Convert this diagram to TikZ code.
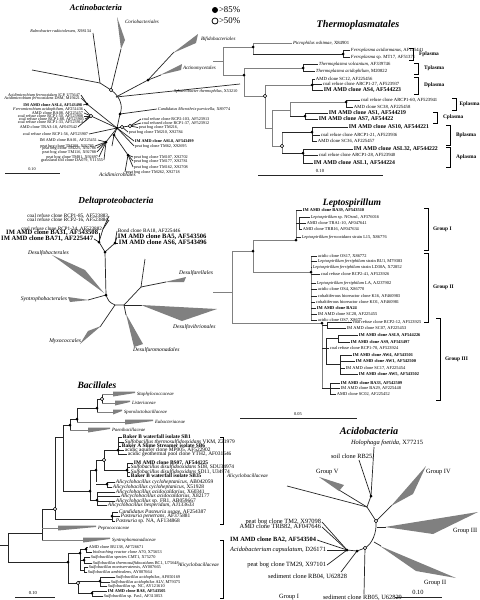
\documentclass[tikz,border=0pt]{standalone}
\usepackage{fontspec}
\setmainfont{Liberation Serif}
\newcommand{\bn}[1]{{\bfseries #1}}
\newcommand{\bB}[1]{{\fontsize{3.3}{3.5}\selectfont\bfseries #1}}
\newcommand{\bT}[1]{{\fontsize{2.9}{3.1}\selectfont\bfseries #1}}
\begin{document}
\begin{tikzpicture}[x=0.5pt,y=-0.5pt]

\tikzset{
    br/.style={draw=black!85, line width=0.35pt},
    gbr/.style={draw=black!50, line width=0.45pt},
    lab/.style={anchor=west, inner sep=0.3pt, font=\fontsize{2.3}{2.5}\selectfont},
    rlab/.style={lab, anchor=east},
    clade/.style={anchor=west, inner sep=0.3pt, font=\fontsize{2.5}{2.7}\selectfont\itshape},
    ttl/.style={inner sep=0pt, font=\fontsize{4.8}{5.5}\selectfont\bfseries\itshape},
    wedge/.style={fill=black!50, draw=none},
    fdot/.style={circle, fill=black, inner sep=0pt, minimum size=1.5pt},
    odot/.style={circle, draw=black, fill=white, line width=0.3pt, inner sep=0pt, minimum size=1.7pt},
    brk/.style={draw=black, line width=0.4pt}
};

\useasboundingbox (0,0) rectangle (480,600);
\fill[white] (0,0) rectangle (480,600);

%% legend
\node[fdot, minimum size=3pt] (lgA) at (215,10) {};
\node[lab, font=\fontsize{4.4}{5}\selectfont] (lgAt) at (218,10) {>85\%};
\node[odot, minimum size=3pt, line width=0.4pt] (lgB) at (215,21) {};
\node[lab, font=\fontsize{4.4}{5}\selectfont] (lgBt) at (218,21) {>50\%};

%% Actinobacteria
\begin{scope}[lab/.append style={font=\fontsize{2.1}{2.3}\selectfont}]
\node[ttl, font=\fontsize{4.3}{5}\selectfont\bfseries\itshape] (acT) at (96,8) {Actinobacteria};
\coordinate (ac0) at (111,90);
\coordinate (ac1) at (116,97);
\coordinate (ac2) at (120,114);
\coordinate (ac3) at (117,128);
\draw[br] (ac0) .. controls (121,97) and (123,107) .. (ac2) .. controls (119,121) .. (ac3);
% Coriobacteriales
\draw[br] (ac0) -- (121,49);
\fill[wedge] (121,49) -- (117,17) -- (125,40) -- cycle;
\node[clade] (acC) at (124,22) {Coriobacteriales};
% Rubrobacter
\coordinate (ac4) at (100,83);
\draw[br] (ac0) -- (ac4) -- (93,33);
\draw[br] (ac4) -- (32,70);
\node[rlab] (acR) at (92,31) {\textit{Rubrobacter radiotolerans}, X98134};
% Bifidobacteriales, Actinomycetales
\coordinate (ac5) at (148,80);
\draw[br] (ac1) -- (ac5) -- (174,52);
\fill[wedge] (173,53) -- (198,34) -- (196,43) -- cycle;
\node[clade] (acB) at (200,39) {Bifidobacteriales};
\draw[br] (ac5) -- (161,75);
\fill[wedge] (160,75) -- (182,64) -- (181,70) -- cycle;
\node[clade] (acA) at (182,68) {Actinomycetales};
\draw[br] (ac1) -- (240,84);
\node[lab] (acS) at (173,91) {\textit{Sphaerobacter thermophilus}, X53210};
\draw[br] (ac2) -- (157,109) node[lab] (acM) {\textit{Candidatus Microthrix parvicella}, X89774};
% right cluster
\coordinate (ac6) at (122,127);
\coordinate (ac7) at (130,126);
\draw[br] (ac3) -- (ac6) -- (ac7);
\draw[br] (ac7) -- (141,119) node[lab] (acr1) {coal refuse clone RCP2-103, AF523913};
\draw[br] (ac7) -- (141,123) node[lab] (acr2) {coal refused clone RCP1-37, AF523912};
\draw[br] (ac7) -- (138,127.5) node[lab] (acr3) {peat bog clone TM216,};
\draw[br] (ac6) -- (128,132) node[lab] (acr4) {peat bog clone TM210, X92784};
\draw[br] (ac3) -- (134,141) node[lab] (acr5) {\bn{IM AMD clone ASL8, AF543499}};
\draw[br] (ac3) -- (134,146) node[lab] (acr6) {peat bog clone TM62, X92695};
\coordinate (ac8) at (114,135);
\coordinate (ac9) at (128,155);
\draw[br] (ac3) -- (ac8) -- (ac9);
\draw[br] (ac8) -- (112,146);
\foreach \y/\x/\t [count=\i] in {157/133/{peat bog clone TM107, X92702}, 161/133/{peat bog clone TM177, X92781}, 167/133/{peat bog clone TM162, X92708}, 172/125/{peat bog clone TM262, X92718}} {
    \draw[br] (ac9) -- (\x,\y) node[lab] (acb\i) {\t};
}
% left cluster
\coordinate (ac10) at (87,104);
\draw[br] (ac3) -- (ac10);
\foreach \y/\x/\t [count=\i] in {95/81/{\textit{Acidimicrobium ferrooxidans} ICP, U75647}, 98/81/{\textit{Acidimicrobium ferrooxidans} DSM, M19421}, 105/83/{\bn{IM AMD clone ASL4, AF543498}}} {
    \draw[br] (ac10) -- (\x,\y) node[rlab] (acl\i) {\t};
}
\coordinate (ac11) at (91,116);
\draw[br] (ac3) -- (ac11);
\foreach \y/\x/\t [count=\i] in {109/84/{\textit{Ferromicrobium acidophilum}, AF251436}, 113/84/{AMD clone BA08, AF225457}, 116/84/{coal refuse clone RCP1-50, AF523908}, 119/85/{coal refuse clone RCP1-88, AF523905}, 122/84/{coal refuse clone RCP1-33, AF523914}, 127/78/{AMD clone TRA3-18, AF047642}} {
    \draw[br] (ac11) -- (\x,\y) node[rlab] (acm\i) {\t};
}
\draw[br] (ac3) -- (89,134) node[rlab] (acn) {coal refuse clone RCP1-56, AF523907};
\coordinate (ac12) at (106,142);
\draw[br] (ac3) -- (ac12);
\foreach \y/\x/\t [count=\i] in {140/98/{IM AMD clone BA01, AF225451}, 146/95/{peat bog clone TM208, X92785}, 148/97/{peat bog clone TM225, X92786}, 152/97/{peat bog clone TM116, X92788}, 157/99/{peat bog clone TM81, X92697}, 160/104/{grassland soil clone DA079, Y11555}} {
    \draw[br] (ac12) -- (\x,\y) node[rlab] (aco\i) {\t};
}
% scale bar
\draw[br] (5,173) -- (60,173);
\node[lab, anchor=south] (acs) at (32,172) {0.10};
\node[clade, font=\fontsize{2.7}{2.9}\selectfont\itshape] (acI) at (98,175) {Acidimicrobiales};
\foreach \c in {ac2,ac3,ac5,ac8,ac9,ac10,ac12} {\node[fdot] at (\c) {};}
\foreach \c in {ac0,ac6,ac7,ac11} {\node[odot] at (\c) {};}
\end{scope}

%% Thermoplasmatales
\begin{scope}[lab/.append style={font=\fontsize{2.35}{2.5}\selectfont}]
\node[ttl, font=\fontsize{5.1}{6}\selectfont\bfseries\itshape] (thT) at (358,25) {Thermoplasmatales};
\draw[gbr] (213,61) -- (223,61);
\draw[gbr] (223,47) -- (223,75);
\draw[gbr] (223,47) -- (253,47);
\draw[gbr] (253,43) -- (253,54);
\draw[gbr] (223,75) -- (244,75);
\draw[gbr] (253,43) -- (292,43) node[lab] (th1) {\textit{Picrophilus oshimae}, X84901};
\draw[br] (253,54) -- (343,54);
\draw[br] (343,50) -- (343,57);
\foreach \y/\t [count=\i] in {50/{\textit{Ferroplasma acidarmanus}, AF145441}, 57/{\textit{Ferroplasma} sp. MT17, AF51371}} {
    \draw[br] (343,\y) -- (350,\y) node[lab] (thf\i) {\t};
}
\draw[gbr] (244,68) -- (244,96);
\draw[gbr] (244,68) -- (303,68);
\draw[br] (303,64) -- (303,71);
\draw[br] (303,64) -- (318,64) node[lab] (tht1) {\textit{Thermoplasma volcanium}, AF339746};
\draw[br] (303,71) -- (315,71) node[lab] (tht2) {\textit{Thermoplasma acidophilum}, M20822};
\draw[gbr] (244,96) -- (265,96);
\draw[gbr] (265,85) -- (265,128);
\draw[gbr] (265,85) -- (312,85);
\draw[br] (312,79) -- (312,90);
\foreach \y/\x/\t [count=\i] in {79/315/{AMD clone SC12, AF225456}, 84/322/{coal refuse clone ARCP1-27, AF523937}, 90/323/{\bT{IM AMD clone AS4, AF544223}}} {
    \draw[br] (312,\y) -- (\x,\y) node[lab] (thd\i) {\t};
}
\draw[gbr] (265,128) -- (272,128);
\draw[gbr] (272,110) -- (272,146);
\draw[gbr] (272,110) -- (290,110);
\draw[gbr] (290,102) -- (290,116);
\draw[gbr] (290,102) -- (346,102);
\draw[br] (346,100) -- (346,107);
\foreach \y/\x/\t [count=\i] in {100/360/{coal refuse clone ARCP1-60, AF523941}, 107/353/{AMD clone SC38, AF225458}} {
    \draw[br] (346,\y) -- (\x,\y) node[lab] (the\i) {\t};
}
\draw[br] (290,116) -- (305,116);
\draw[br] (305,113) -- (305,119);
\foreach \y/\x/\t [count=\i] in {113/328/{\bT{IM AMD clone AS1, AF544219}}, 119/318/{\bT{IM AMD clone AS7, AF54422}}} {
    \draw[br] (305,\y) -- (\x,\y) node[lab] (thc\i) {\t};
}
\draw[gbr] (272,146) -- (282,146);
\draw[gbr] (282,132) -- (282,153);
\draw[br] (282,132) -- (312,132);
\draw[br] (312,127) -- (312,141);
\foreach \y/\x/\t [count=\i] in {127/348/{\bT{IM AMD clone AS10, AF544221}}, 135/320/{coal refuse clone ARCP1-21, AF523936}, 141/317/{AMD clone SC36, AF225457}} {
    \draw[br] (312,\y) -- (\x,\y) node[lab] (thb\i) {\t};
}
\draw[br] (282,153) -- (303,153);
\draw[br] (303,149) -- (303,163);
\foreach \y/\x/\t [count=\i] in {149/353/{\bT{IM AMD clone ASL32, AF544222}}, 155/318/{coal refuse clone ARCP1-28, AF523940}, 163/313/{\bT{IM AMD clone ASL1, AF544224}}} {
    \draw[br] (303,\y) -- (\x,\y) node[lab] (tha\i) {\t};
}
% brackets
\foreach \x/\a/\b/\d/\t [count=\i] in {413/48/60/5/Fplasma, 418/63/74/5/Tplasma, 418/77/94/5/Dplasma, 456/98/110/2.5/Eplasma, 437/112/123/5/Cplasma, 450/125/145/5/Bplasma, 450/147/167/5/Aplasma} {
    \draw[brk] (\x-4,\a) -- (\x,\a) -- (\x,\b) -- (\x-4,\b);
    \node[lab, font=\fontsize{2.7}{3}\selectfont\bfseries] (thk\i) at (\x+\d,{(\a+\b)/2}) {\t};
}
\draw[br] (258,175) -- (383,175);
\node[lab, anchor=south] (ths) at (320,174) {0.10};
\foreach \c in {(244,75),(253,47),(343,54),(303,68),(312,85),(346,102),(305,116),(312,132),(303,153)} {\node[fdot] at \c {};}
\foreach \c in {(265,96),(282,146)} {\node[odot] at \c {};}
\end{scope}

%% Deltaproteobacteria
\begin{scope}[lab/.append style={font=\fontsize{2.6}{2.8}\selectfont}]
\node[ttl, font=\fontsize{4.6}{5.5}\selectfont\bfseries\itshape] (dlT) at (116,201) {Deltaproteobacteria};
\coordinate (dl1) at (99,242);
\coordinate (dl2) at (105,252);
\coordinate (dl3) at (115,243);
\coordinate (dl4) at (106,295);
\coordinate (dl5) at (115,305);
\coordinate (dl6) at (124,305);
\coordinate (dl7) at (141,287);
\coordinate (dl8) at (103,229);
\draw[br] (dl1) -- (dl2) -- (dl3);
\draw[br] (dl2) -- (dl4) .. controls (109,302) .. (dl5) -- (dl6) -- (dl7);
\draw[br] (dl1) -- (dl8);
\foreach \y/\t [count=\i] in {216/{coal refuse clone RCP1-85, AF523883}, 220/{coal refuse clone RCP2-16, AF523884}} {
    \draw[br] (dl8) -- (109,\y) node[rlab] (dla\i) {\t};
}
\node[rlab] (dlb) at (103,229) {coal refuse clone RCP1-24, AF523882};
\draw[br] (dl1) -- (99,233) node[rlab] (dlc1) {\bB{IM AMD clone BA31, AF543508}};
\draw[br] (dl1) -- (94,239) node[rlab] (dlc2) {\bB{IM AMD clone BA71, AF225447}};
\foreach \y/\x/\t [count=\i] in {231/117/{Bond clone BA18, AF225446}, 237/117/{\bB{IM AMD clone BA5, AF543506}}, 243/118/{\bB{IM AMD clone AS6, AF543496}}} {
    \draw[br] (dl3) -- (\x,\y) node[lab] (dld\i) {\t};
}
% collapsed orders
\fill[wedge] (104,293) -- (52,255) -- (85,270) -- cycle;
\node[clade, font=\fontsize{2.8}{3}\selectfont\itshape] (dlo1) at (27,253) {Desulfobacterales};
\draw[br] (dl4) -- (88,300);
\fill[wedge] (89,300) -- (68,297) -- (70,302) -- cycle;
\node[clade, font=\fontsize{2.8}{3}\selectfont\itshape, anchor=east] (dlo2) at (68,299) {Syntrophobacterales};
\draw[br] (dl5) -- (100,327);
\fill[wedge] (101,326) -- (80,344) -- (88,331) -- cycle;
\node[clade, font=\fontsize{2.8}{3}\selectfont\itshape, anchor=east] (dlo3) at (82,341) {Myxococcales};
\draw[br] (dl6) -- (126,315);
\fill[wedge] (126,314) -- (134,347) -- (143,344) -- cycle;
\node[clade, font=\fontsize{2.8}{3}\selectfont\itshape] (dlo4) at (132,350) {Desulfuromonadales};
\draw[br] (dl6) -- (142,305);
\fill[wedge] (141,305) -- (217,309) -- (182,321) -- cycle;
\node[clade, font=\fontsize{2.8}{3}\selectfont\itshape] (dlo5) at (172,327) {Desulfovibrionales};
\draw[br] (dl7) -- (166,282);
\fill[wedge] (165,282) -- (186,277) -- (184,282) -- cycle;
\node[clade, font=\fontsize{2.8}{3}\selectfont\itshape] (dlo6) at (178,273) {Desulfarellales};
\draw[br] (dl7) -- (145,259);
\foreach \c in {dl1,dl2,dl3,dl4} {\node[fdot] at (\c) {};}
\end{scope}

%% Leptospirillum
\begin{scope}[lab/.append style={font=\fontsize{2.2}{2.4}\selectfont}]
\node[ttl, font=\fontsize{4.8}{5.5}\selectfont\bfseries\itshape] (lpT) at (352,203) {Leptospirillum};
\draw[gbr] (213,292) -- (232,292);
\draw[gbr] (232,251) -- (232,323);
\draw[gbr] (232,251) -- (253,251);
\draw[gbr] (253,240) -- (253,272);
\draw[gbr] (253,240) -- (296,240);
\draw[gbr] (296,210) -- (296,240);
\draw[br] (296,210) -- (302,210) node[lab] (lp1) {\bn{IM AMD clone BA39, AF543510}};
\draw[br] (296,223) -- (299,223);
\draw[br] (299,217) -- (299,229);
\foreach \y/\x/\t [count=\i] in {217/310/{\textit{Leptospirillum} sp. NOsm1, AF376016}, 223/306/{AMD clone TRA1-10, AF047641}, 229/302/{AMD clone TRB16, AF047634}} {
    \draw[br] (299,\y) -- (\x,\y) node[lab] (lpa\i) {\t};
}
\draw[br] (296,237) -- (301,237) node[lab] (lp2) {\textit{Leptospirillum ferrooxidans} strain L15, X86776};
\draw[gbr] (253,272) -- (311,272);
\draw[gbr] (311,256) -- (311,320);
\foreach \y/\x/\t [count=\i] in {256/317/{acidic clone OS17, X86772}, 261/317/{\textit{Leptospirillum ferriphilum} strain BU1, M79383}, 267/312/{\textit{Leptospirillum ferriphilum} strain LD30A, X72852}, 274/320/{coal refuse clone RCP2-41, AF523926}, 283/316/{\textit{Leptospirillum ferriphilum} LA, AJ237902}, 289/317/{acidic clone OS4, X86770}, 296/317/{cobaltiferous bioreactor clone K16, AF460983}, 302/315/{cobaltiferous bioreactor clone KO1, AF460981}, 308/316/{\bn{IM AMD clone BA24}}, 314/317/{IM AMD clone SC28, AF225455}, 320/317/{acidic clone OS7, X8677}} {
    \draw[br] (311,\y) -- (\x,\y) node[lab] (lpb\i) {\t};
}
\draw[gbr] (232,323) -- (322,323);
\draw[gbr] (322,323) -- (322,388);
\draw[br] (322,325) -- (327,325);
\draw[br] (327,322) -- (327,328);
\foreach \y/\x/\t [count=\i] in {322/352/{coal refuse clone RCP2-12, AF523925}, 328/346/{IM AMD clone SC07, AF225453}} {
    \draw[br] (327,\y) -- (\x,\y) node[lab] (lpc\i) {\t};
}
\draw[br] (322,348) -- (326,348);
\draw[br] (326,338) -- (326,364);
\draw[br] (326,338) -- (338,338);
\draw[br] (338,335) -- (338,342);
\foreach \y/\x/\t [count=\i] in {335/358/{\bn{IM AMD clone ASL9, AF544226}}, 342/350/{\bn{IM AMD clone AS9, AF543497}}} {
    \draw[br] (338,\y) -- (\x,\y) node[lab] (lpd\i) {\t};
}
\draw[br] (326,348) -- (329,348) node[lab] (lpe) {coal refuse clone RCP1-70, AF523924};
\draw[br] (326,364) -- (340,364);
\draw[br] (340,355) -- (340,374);
\foreach \y/\x/\t [count=\i] in {355/352/{\bn{IM AMD clone AW4, AF543501}}, 361/355/{\bn{IM AMD clone AW1, AF542500}}, 368/345/{IM AMD clone SC17, AF225454}, 374/358/{\bn{IM AMD clone AW5, AF543502}}} {
    \draw[br] (340,\y) -- (\x,\y) node[lab] (lpf\i) {\t};
}
\draw[br] (322,388) -- (330,388);
\draw[br] (330,383) -- (330,394);
\foreach \y/\x/\t [count=\i] in {383/340/{\bn{IM AMD clone BA33, AF542509}}, 388/340/{IM AMD clone BA29, AF225448}, 394/336/{AMD clone SC02, AF225452}} {
    \draw[br] (330,\y) -- (\x,\y) node[lab] (lpg\i) {\t};
}
\foreach \x/\a/\b/\t [count=\i] in {428/208/250/Group I, 428/253/322/Group II, 440/318/400/Group III} {
    \draw[brk] (\x-4,\a) -- (\x,\a) -- (\x,\b) -- (\x-4,\b);
    \node[lab, font=\fontsize{2.7}{3}\selectfont\bfseries] (lpk\i) at (\x+4,{(\a+\b)/2}) {\t};
}
\draw[br] (240,418) -- (357,418);
\node[lab, anchor=south] (lps) at (298,417) {0.05};
\foreach \c in {(253,251),(296,240),(311,272),(322,323)} {\node[fdot] at \c {};}
\end{scope}

%% Bacillales
\begin{scope}[lab/.append style={font=\fontsize{2.7}{2.9}\selectfont}]
\node[ttl] (bcT) at (97,385) {Bacillales};
\draw[br] (0,545) -- (8,545);
\draw[br] (8,533) -- (8,562);
\draw[br] (8,533) -- (42,533);
\draw[br] (42,509) -- (42,540);
\draw[br] (42,509) -- (55,509);
\draw[gbr] (42,528) -- (58,528);
\draw[gbr] (42,540) -- (83,540);
\draw[br] (55,437) -- (55,519);
\draw[br] (55,437) -- (63,437);
\draw[br] (55,519) -- (112,519);
\draw[br] (63,425) -- (63,491);
\draw[br] (63,425) -- (70,425);
\draw[br] (70,419) -- (70,430);
\draw[gbr] (70,430) -- (88,430);
\draw[br] (70,419) -- (77,419);
\draw[br] (77,408) -- (77,422);
\draw[gbr] (77,422) -- (125,422);
\draw[br] (77,408) -- (97,408);
\draw[br] (97,399) -- (97,412);
\draw[gbr] (97,412) -- (113,412);
\draw[br] (97,399) -- (102,399);
\draw[br] (102,394) -- (102,403);
\draw[gbr] (102,394) -- (113,394);
\draw[gbr] (102,403) -- (115,403);
% collapsed families
\foreach \a/\b/\y/\t [count=\i] in {113/135/394/Staphylococcaceae, 115/130/403/Listeriaceae, 113/122/412/Sporolactobacillaceae, 125/153/422/Eubacteriaceae, 88/110/430/Paenibacillaceae, 58/96/528/Peptococcaceae, 83/110/540/Syntrophomonadaceae} {
    \fill[wedge] (\a,\y-2.5) -- (\b,\y-2.5) -- (\b,\y-1) -- (\a,\y+2.5) -- cycle;
    \node[clade, font=\fontsize{2.4}{2.6}\selectfont\itshape] (bcw\i) at (\b+1,\y) {\t};
}
% Alicyclobacillaceae
\draw[br] (63,491) -- (90,491);
\draw[br] (90,470) -- (90,500);
\draw[br] (90,470) -- (96,470);
\draw[br] (96,460) -- (96,482);
\draw[br] (96,460) -- (104,460);
\draw[br] (104,450) -- (104,470);
\draw[br] (104,450) -- (118,450);
\draw[br] (118,438) -- (118,455);
\foreach \y/\x/\t [count=\i] in {437/122/{\bn{Baker B waterfall isolate SB1}}, 442/124/{\textit{Sulfobacillus thermosulfidooxidans} VKM, Z21979}, 446/121/{\bn{Baker A Slime Streamer isolate SB6}}, 450/124/{acidic aquifer clone MP005, AF522902}, 454/127/{acidic geothermal pool clone YTH2, AF031646}} {
    \draw[br] (118,\y) -- (\x,\y) node[lab] (bca\i) {\t};
}
\draw[br] (104,470) -- (127,470);
\draw[br] (127,463) -- (127,476);
\foreach \y/\x/\t [count=\i] in {463/133/{\bn{IM AMD clone BS07, AF544225}}, 467/130/{\textit{Sulfobacillus disulfidooxidans} SD8, SDU34974}, 472/130/{\textit{Sulfobacillus disulfidooxidans} SD11, U34974}, 476/130/{\bn{Baker B waterfall isolate SB35}}} {
    \draw[br] (127,\y) -- (\x,\y) node[lab] (bcb\i) {\t};
}
\draw[br] (96,484) -- (107,484);
\draw[br] (107,482) -- (107,487);
\foreach \y/\x/\t [count=\i] in {482/115/{\textit{Alicyclobacillus cycloheptanicus}, AB042059}, 487/112/{\textit{Alicyclobacillus cycloheptanicus}, X51928}} {
    \draw[br] (107,\y) -- (\x,\y) node[lab] (bcc\i) {\t};
}
\draw[br] (90,500) -- (97,500);
\draw[br] (97,492) -- (97,505);
\foreach \y/\x/\t [count=\i] in {492/115/{\textit{Alicyclobacillus acidocaldarius}, X60341}, 496/120/{\textit{Alicyclobacillus acidocaldarius}, X82177}, 501/115/{\textit{Alicyclobacillus} sp. FR1, AB059667}, 505/107/{\textit{Alicyclobacillus hesperidum}, AJ133633}} {
    \draw[br] (97,\y) -- (\x,\y) node[lab] (bcd\i) {\t};
}
\draw[br] (112,512) -- (112,521);
\foreach \y/\x/\t [count=\i] in {512/118/{\textit{Candidatus Pasteuria usgae}, AF254387}, 516/120/{\textit{Pasteuria penetrans}, AF375881}, 521/115/{\textit{Pasteuria} sp. NA, AF134868}} {
    \draw[br] (112,\y) -- (\x,\y) node[lab] (bce\i) {\t};
}
% Sulfobacillus group
\draw[br] (8,562) -- (68,562);
\draw[br] (68,553) -- (68,583);
\draw[br] (68,553) -- (80,553);
\draw[br] (80,549) -- (80,570);
\draw[br] (80,549) -- (86,549);
\draw[br] (86,547) -- (86,552);
\draw[br] (80,560) -- (84,560);
\draw[br] (84,557) -- (84,563);
\draw[br] (80,570) -- (84,570);
\draw[br] (84,567) -- (84,572);
\foreach \p/\y/\x/\t [count=\i] in {86/547/88/{AMD clone BU138, AF726671}, 86/552/92/{\textit{bioleaching reactor clone} A70, X75653}, 84/557/90/{\textit{Sulfobacillus} species CMT1, X75270}, 84/563/92/{\textit{Sulfobacillus thermosulfidooxidans} BC1, U75648}, 84/567/88/{\textit{Sulfobacillus montserratensis}, AY007665}, 84/572/87/{\textit{Sulfobacillus ambivalens}, AY007664}} {
    \draw[br] (\p,\y) -- (\x,\y) node[lab, font=\fontsize{2.15}{2.3}\selectfont] (bcf\i) {\t};
}
\draw[br] (68,583) -- (78,583);
\draw[br] (78,581) -- (78,593);
\draw[br] (78,581) -- (100,581);
\draw[br] (100,577) -- (100,586);
\draw[br] (78,593) -- (92,593);
\draw[br] (92,591) -- (92,596);
\foreach \p/\y/\x/\t [count=\i] in {100/577/115/{\textit{Sulfobacillus acidophilus}, AF050169}, 100/582/110/{\textit{Sulfobacillus acidophilus} ALV, M79375}, 100/586/107/{\textit{Sulfobacillus} sp. NC, AY121610}, 92/591/107/{\bn{IM AMD clone BA8, AF543505}}, 92/596/103/{\textit{Sulfobacillus} sp. Fas1, AF313053}} {
    \draw[br] (\p,\y) -- (\x,\y) node[lab, font=\fontsize{2.15}{2.3}\selectfont] (bcg\i) {\t};
}
\draw[brk] (220,437) -- (223,437) -- (223,524) -- (220,524);
\node[clade, font=\fontsize{2.6}{2.8}\selectfont\itshape] (bcx1) at (226,476) {Alicyclobacillaceae};
\draw[brk] (220,540) -- (223,540) -- (223,598) -- (220,598);
\node[clade, font=\fontsize{2.6}{2.8}\selectfont\itshape, anchor=east] (bcx2) at (220,565) {Alicyclobacillaceae};
\draw[br] (15,597) -- (55,597);
\node[lab, font=\fontsize{2.3}{2.5}\selectfont, anchor=south] (bcs) at (33,596) {0.10};
\foreach \c in {(97,408),(77,419),(70,425),(90,491),(96,470),(118,450),(127,470),(107,484),(97,500),(112,516),(68,562),(80,553),(86,549),(84,560),(100,581),(92,593)} {\node[fdot] at \c {};}
\foreach \c in {(102,399),(55,509),(104,460),(78,583)} {\node[odot] at \c {};}
\end{scope}

%% Acidobacteria
\begin{scope}[lab/.append style={font=\fontsize{3.2}{3.4}\selectfont}]
\node[ttl, font=\fontsize{5.1}{6}\selectfont\bfseries\itshape] (abT) at (369,431) {Acidobacteria};
\coordinate (ab1) at (371,496);
\coordinate (ab2) at (367,507);
\coordinate (ab3) at (376,521);
\coordinate (ab4) at (365,548);
\coordinate (ab5) at (357,551);
\coordinate (ab6) at (347,550);
\node[lab] (abH) at (350,443) {\textit{Holophaga foetida}, X77215};
\node[lab] (abR) at (330,457) {soil clone RB25,};
\draw[br] (ab1) -- (374,447);
\draw[br] (ab1) -- (359,460);
\draw[br] (ab1) -- (ab2) -- (ab3);
\draw[br] (ab2) -- (287,486);
\draw[br] (ab2) -- (339,490);
\fill[wedge] (339,491) -- (319,477) -- (344,485) -- cycle;
\node[lab] (abV) at (315,472) {Group V};
\draw[br] (ab3) -- (392,505);
\fill[wedge] (391,506) -- (426,466) -- (413,494) -- cycle;
\node[lab] (abIV) at (425,472) {Group IV};
\draw[br] (ab3) .. controls (377,533) and (372,544) .. (ab4);
\draw[br] (ab3) ++(1,6) coordinate (ab7) -- (386,527);
\fill[wedge] (385,527) -- (478,512) -- (433,534) -- cycle;
\node[lab] (abIII) at (452,531) {Group III};
\draw[br] (374,542) -- (381,546);
\fill[wedge] (380,546) -- (456,578) -- (416,571) -- cycle;
\node[lab] (abII) at (423,583) {Group II};
\draw[br] (ab4) -- (ab5) -- (ab6);
\foreach \y/\x/\t [count=\i] in {522/322/{peat bog clone TM2, X97098}, 527/322/{AMD clone TRB82, AF047646}, 540/317/{\bn{IM AMD clone BA2, AF543504}}, 550/327/{\textit{Acidobacterium capsulatum}, D26171}, 565/327/{peat bog clone TM29, X97101}} {
    \draw[br] (ab6) -- (\x,\y) node[rlab] (aba\i) {\t};
}
\draw[br] (ab5) -- (341,572);
\node[lab, anchor=north east] (abb) at (348,573) {sediment clone RB04, U62828};
\draw[br] (ab4) -- (364,594);
\node[lab] (abc) at (322,598) {sediment clone RB05, U62829};
\node[lab] (abI) at (278,597) {Group I};
\draw[br] (395,597) -- (442,597);
\node[lab, anchor=south] (abs) at (418,596) {0.10};
\foreach \c in {ab1,ab5,ab6} {\node[fdot] at (\c) {};}
\foreach \c in {ab3,ab4} {\node[odot] at (\c) {};}
\end{scope}

\end{tikzpicture}
\end{document}
